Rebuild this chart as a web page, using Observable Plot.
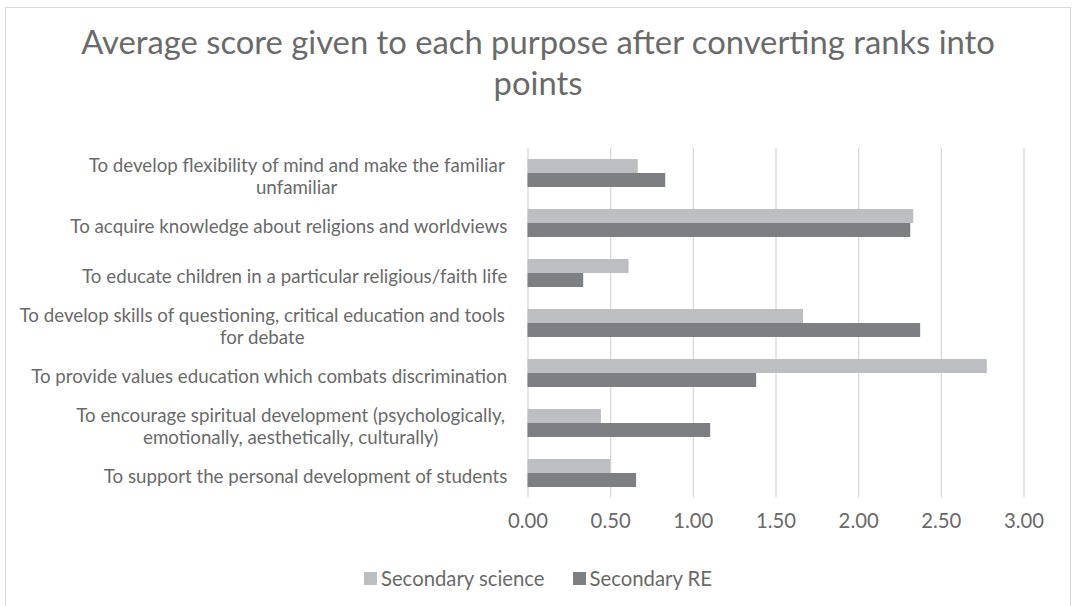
<!DOCTYPE html>
<html>
<head>
<meta charset="utf-8">
<script src="https://cdn.jsdelivr.net/npm/d3@7"></script>
<script src="https://cdn.jsdelivr.net/npm/@observablehq/plot@0.6"></script>
<style>
  body { margin: 0; background: #fff; }
  #wrap { position: relative; width: 1072px; height: 606px; overflow: hidden; font-family: Lato, sans-serif; color: #6a6a6a; }
  #frame { position: absolute; left: 5px; top: 7px; width: 1066px; height: 640px; border: 1px solid #d9d9d9; box-sizing: border-box; }
  #title { position: absolute; left: 2px; top: 21px; width: 1072px; text-align: center; line-height: 41px; white-space: nowrap; }
  #plot { position: absolute; left: 0; top: 130px; }
  #legend { position: absolute; left: 2px; top: 566px; width: 1072px; height: 24px; display: flex; justify-content: center; align-items: center; gap: 28px; white-space: nowrap; }
  .item { display: flex; align-items: center; gap: 4px; }
  .sw { width: 13px; height: 13px; display: inline-block; }
</style>
</head>
<body>
<div id="wrap">
  <div id="frame"></div>
  <div id="title"></div>
  <div id="plot"></div>
  <div id="legend"></div>
</div>
<script>
// ---- data ----
const titleLines = ["Average score given to each purpose after converting ranks into", "points"];
const categories = [
  "To develop flexibility of mind and make the familiar unfamiliar",
  "To acquire knowledge about religions and worldviews",
  "To educate children in a particular religious/faith life",
  "To develop skills of questioning, critical education and tools for debate",
  "To provide values education which combats discrimination",
  "To encourage spiritual development (psychologically, emotionally, aesthetically, culturally)",
  "To support the personal development of students"
];
const categoryLabelLines = [
  ["To develop flexibility of mind and make the familiar", "unfamiliar"],
  ["To acquire knowledge about religions and worldviews"],
  ["To educate children in a particular religious/faith life"],
  ["To develop skills of questioning, critical education and tools", "for debate"],
  ["To provide values education which combats discrimination"],
  ["To encourage spiritual development (psychologically,", "emotionally, aesthetically, culturally)"],
  ["To support the personal development of students"]
];
const seriesNames = ["Secondary science", "Secondary RE"];
const scienceValues = [0.667, 2.333, 0.611, 1.667, 2.778, 0.444, 0.500];
const reValues = [0.833, 2.315, 0.337, 2.375, 1.383, 1.105, 0.657];
const xTicks = [0, 0.5, 1, 1.5, 2, 2.5, 3];

// ---- styles ----
const FONT = "Lato";
const TEXT = "#6a6a6a";
const LIGHT = "#bdbec1";
const DARK = "#7e7f83";
const GRID = "#d9d9d9";

const ctx = document.createElement("canvas").getContext("2d");
function textW(s, size) { ctx.font = `${size}px ${FONT}`; return ctx.measureText(s).width; }
const titleSize = 100 * 915 / textW(titleLines[0], 100);
const labelSize = 100 * 477 / textW(categories[4], 100);
const smallSize = 100 * 123 / textW("Secondary RE", 100);

// title
const title = document.getElementById("title");
title.style.fontSize = titleSize + "px";
title.innerHTML = titleLines.join("<br>");

// rows
const rows = categories.flatMap((c, i) => [
  {category: c, series: seriesNames[0], value: scienceValues[i]},
  {category: c, series: seriesNames[1], value: reValues[i]}
]);

const labelGap = 20.5;
const labelMarks = categories.map((c, i) => {
  const lines = categoryLabelLines[i];
  const w = Math.max(...lines.map((l, j) => textW(lines.length > 1 && j === 0 ? l + " " : l, labelSize)));
  return Plot.text([c], {
    y: d => d,
    frameAnchor: "left",
    text: () => lines.join("\n"),
    textAnchor: "middle",
    lineHeight: 22 / labelSize,
    dx: -(labelGap + w / 2),
    dy: 2,
    fill: TEXT,
    fontSize: labelSize
  });
});

const chart = Plot.plot({
  width: 1072,
  height: 420,
  marginTop: 17.5,
  marginBottom: 52.5,
  marginLeft: 527.5,
  marginRight: 48.5,
  style: {fontFamily: FONT, color: TEXT, background: "transparent", overflow: "visible"},
  x: {domain: [0, 3], label: null},
  y: {domain: categories, padding: 0, axis: null},
  marks: [
    Plot.gridX(xTicks, {stroke: GRID, strokeOpacity: 1, strokeWidth: 1.3}),
    Plot.axisX(xTicks, {tickFormat: d3.format(".2f"), tickSize: 0, tickPadding: 16, fontSize: smallSize, fill: TEXT, label: null}),
    Plot.barX(rows.filter(d => d.series === seriesNames[0]), {x: "value", y: "category", fill: LIGHT, insetTop: 11, insetBottom: 25}),
    Plot.barX(rows.filter(d => d.series === seriesNames[1]), {x: "value", y: "category", fill: DARK, insetTop: 25, insetBottom: 11}),
    ...labelMarks
  ]
});
document.getElementById("plot").appendChild(chart);

// legend
const legend = document.getElementById("legend");
legend.style.fontSize = smallSize + "px";
seriesNames.forEach((name, i) => {
  const item = document.createElement("span");
  item.className = "item";
  const sw = document.createElement("span");
  sw.className = "sw";
  sw.style.background = [LIGHT, DARK][i];
  const t = document.createElement("span");
  t.textContent = name;
  item.appendChild(sw); item.appendChild(t);
  legend.appendChild(item);
});
</script>
</body>
</html>
